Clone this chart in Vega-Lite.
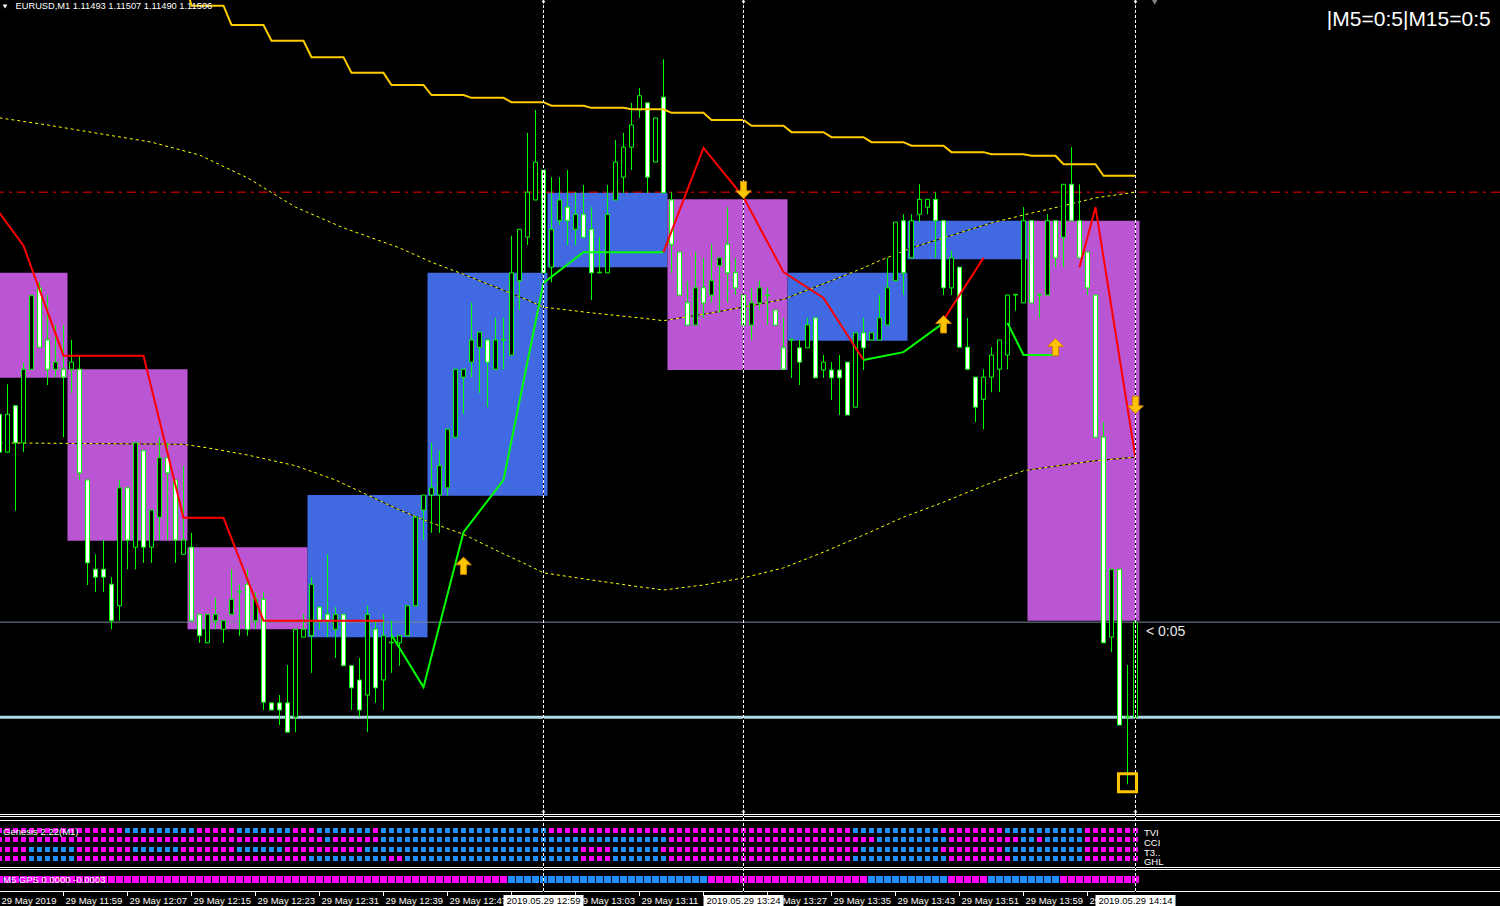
{
"$schema": "https://vega.github.io/schema/vega-lite/v6.json",
"background": "#000000",
"padding": 0,
"spacing": 0,
"bounds": "flush",
"config": {"view": {"stroke": null}, "text": {"font": "Liberation Sans"}, "scale": {"continuousPadding": 0}},
"datasets": {
"bars": [
{"i":0,"o":1.115351,"h":1.115357,"l":1.115294,"c":1.115298},
{"i":1,"o":1.115298,"h":1.115393,"l":1.115298,"c":1.115351},
{"i":2,"o":1.115363,"h":1.115363,"l":1.115216,"c":1.115311},
{"i":3,"o":1.115311,"h":1.115423,"l":1.115298,"c":1.115414},
{"i":4,"o":1.115414,"h":1.115517,"l":1.115414,"c":1.115517},
{"i":5,"o":1.115528,"h":1.115536,"l":1.115445,"c":1.115445},
{"i":6,"o":1.115455,"h":1.115518,"l":1.115392,"c":1.115414},
{"i":7,"o":1.115414,"h":1.115476,"l":1.115403,"c":1.115424},
{"i":8,"o":1.115414,"h":1.115476,"l":1.115319,"c":1.115403},
{"i":9,"o":1.115414,"h":1.115455,"l":1.115381,"c":1.115424},
{"i":10,"o":1.115414,"h":1.115434,"l":1.115259,"c":1.115269},
{"i":11,"o":1.115259,"h":1.115259,"l":1.115112,"c":1.115143},
{"i":12,"o":1.115134,"h":1.115155,"l":1.115102,"c":1.115123},
{"i":13,"o":1.115134,"h":1.115175,"l":1.115102,"c":1.115123},
{"i":14,"o":1.115113,"h":1.115123,"l":1.11505,"c":1.115062},
{"i":15,"o":1.115083,"h":1.115259,"l":1.115062,"c":1.115248},
{"i":16,"o":1.115248,"h":1.115248,"l":1.115134,"c":1.115175},
{"i":17,"o":1.115165,"h":1.115311,"l":1.115134,"c":1.115311},
{"i":18,"o":1.1153,"h":1.1153,"l":1.115143,"c":1.115165},
{"i":19,"o":1.115165,"h":1.115217,"l":1.115143,"c":1.115217},
{"i":20,"o":1.115207,"h":1.115319,"l":1.115175,"c":1.11529},
{"i":21,"o":1.11529,"h":1.115311,"l":1.115175,"c":1.115269},
{"i":22,"o":1.115259,"h":1.115259,"l":1.115143,"c":1.115175},
{"i":23,"o":1.115155,"h":1.115279,"l":1.115155,"c":1.115175},
{"i":24,"o":1.115165,"h":1.115185,"l":1.115062,"c":1.115062},
{"i":25,"o":1.115071,"h":1.115071,"l":1.115031,"c":1.115041},
{"i":26,"o":1.115031,"h":1.115071,"l":1.115031,"c":1.115071},
{"i":27,"o":1.115062,"h":1.115094,"l":1.11505,"c":1.115071},
{"i":28,"o":1.11505,"h":1.115062,"l":1.115031,"c":1.115062},
{"i":29,"o":1.115071,"h":1.115134,"l":1.115071,"c":1.115092},
{"i":30,"o":1.115102,"h":1.115113,"l":1.115041,"c":1.115103},
{"i":31,"o":1.115113,"h":1.115134,"l":1.115041,"c":1.11505},
{"i":32,"o":1.115062,"h":1.115102,"l":1.11505,"c":1.115092},
{"i":33,"o":1.115092,"h":1.115102,"l":1.114937,"c":1.114948},
{"i":34,"o":1.114947,"h":1.114947,"l":1.114937,"c":1.114937},
{"i":35,"o":1.114947,"h":1.114958,"l":1.114916,"c":1.114937},
{"i":36,"o":1.114947,"h":1.115,"l":1.114906,"c":1.114906},
{"i":37,"o":1.114927,"h":1.11505,"l":1.114906,"c":1.11505},
{"i":38,"o":1.115039,"h":1.115071,"l":1.115039,"c":1.11505},
{"i":39,"o":1.115041,"h":1.115123,"l":1.114989,"c":1.115113},
{"i":40,"o":1.115081,"h":1.115081,"l":1.11505,"c":1.115062},
{"i":41,"o":1.115071,"h":1.115155,"l":1.115039,"c":1.115062},
{"i":42,"o":1.11505,"h":1.115081,"l":1.11501,"c":1.115071},
{"i":43,"o":1.115071,"h":1.115071,"l":1.114999,"c":1.114999},
{"i":44,"o":1.114999,"h":1.114999,"l":1.114937,"c":1.114968},
{"i":45,"o":1.114979,"h":1.11501,"l":1.114927,"c":1.114937},
{"i":46,"o":1.114958,"h":1.115083,"l":1.114906,"c":1.115071},
{"i":47,"o":1.11505,"h":1.115062,"l":1.114947,"c":1.114968},
{"i":48,"o":1.114979,"h":1.115071,"l":1.114937,"c":1.115041},
{"i":49,"o":1.115031,"h":1.115062,"l":1.114989,"c":1.115032},
{"i":50,"o":1.115031,"h":1.115041,"l":1.114999,"c":1.115041},
{"i":51,"o":1.115041,"h":1.115083,"l":1.115041,"c":1.115083},
{"i":52,"o":1.115083,"h":1.115207,"l":1.115083,"c":1.115207},
{"i":53,"o":1.115217,"h":1.115238,"l":1.115175,"c":1.115238},
{"i":54,"o":1.115238,"h":1.115311,"l":1.115185,"c":1.115248},
{"i":55,"o":1.115238,"h":1.1153,"l":1.115185,"c":1.115279},
{"i":56,"o":1.115248,"h":1.11533,"l":1.115237,"c":1.11533},
{"i":57,"o":1.115319,"h":1.115414,"l":1.115319,"c":1.115414},
{"i":58,"o":1.115403,"h":1.115414,"l":1.115351,"c":1.115414},
{"i":59,"o":1.115424,"h":1.115507,"l":1.115403,"c":1.115455},
{"i":60,"o":1.115445,"h":1.115466,"l":1.115381,"c":1.115466},
{"i":61,"o":1.115455,"h":1.115455,"l":1.115361,"c":1.115424},
{"i":62,"o":1.115414,"h":1.115486,"l":1.115414,"c":1.115455},
{"i":63,"o":1.115455,"h":1.115486,"l":1.115414,"c":1.115456},
{"i":64,"o":1.115434,"h":1.115601,"l":1.115434,"c":1.115549},
{"i":65,"o":1.115538,"h":1.11561,"l":1.115497,"c":1.11561},
{"i":66,"o":1.115599,"h":1.115745,"l":1.115588,"c":1.115662},
{"i":67,"o":1.115651,"h":1.115777,"l":1.115651,"c":1.115704},
{"i":68,"o":1.115693,"h":1.115693,"l":1.115549,"c":1.115549},
{"i":69,"o":1.115557,"h":1.115683,"l":1.115536,"c":1.11561},
{"i":70,"o":1.115622,"h":1.115683,"l":1.115616,"c":1.115651},
{"i":71,"o":1.115641,"h":1.115693,"l":1.115588,"c":1.115622},
{"i":72,"o":1.11561,"h":1.115662,"l":1.115588,"c":1.115631},
{"i":73,"o":1.115631,"h":1.115672,"l":1.115599,"c":1.115599},
{"i":74,"o":1.11561,"h":1.115641,"l":1.115511,"c":1.115549},
{"i":75,"o":1.115549,"h":1.115599,"l":1.115549,"c":1.11555},
{"i":76,"o":1.115549,"h":1.115672,"l":1.115549,"c":1.115631},
{"i":77,"o":1.115651,"h":1.115735,"l":1.115651,"c":1.115704},
{"i":78,"o":1.115683,"h":1.115745,"l":1.115661,"c":1.115725},
{"i":79,"o":1.115725,"h":1.115787,"l":1.115693,"c":1.115756},
{"i":80,"o":1.115777,"h":1.115808,"l":1.115766,"c":1.115797},
{"i":81,"o":1.115787,"h":1.115787,"l":1.115661,"c":1.115683},
{"i":82,"o":1.115704,"h":1.115766,"l":1.115704,"c":1.115766},
{"i":83,"o":1.115795,"h":1.115848,"l":1.115661,"c":1.115661},
{"i":84,"o":1.115651,"h":1.115662,"l":1.115549,"c":1.115589},
{"i":85,"o":1.115578,"h":1.115578,"l":1.115518,"c":1.115518},
{"i":86,"o":1.115507,"h":1.115538,"l":1.115476,"c":1.115476},
{"i":87,"o":1.115476,"h":1.115578,"l":1.115476,"c":1.115528},
{"i":88,"o":1.115528,"h":1.11557,"l":1.115486,"c":1.115507},
{"i":89,"o":1.115518,"h":1.115589,"l":1.115507,"c":1.115538},
{"i":90,"o":1.115559,"h":1.11557,"l":1.115493,"c":1.11557},
{"i":91,"o":1.115589,"h":1.115641,"l":1.115507,"c":1.115549},
{"i":92,"o":1.115549,"h":1.11557,"l":1.115518,"c":1.115528},
{"i":93,"o":1.115518,"h":1.115528,"l":1.115476,"c":1.115476},
{"i":94,"o":1.115476,"h":1.115528,"l":1.115455,"c":1.115507},
{"i":95,"o":1.115507,"h":1.115538,"l":1.115497,"c":1.115528},
{"i":96,"o":1.115517,"h":1.115528,"l":1.115476,"c":1.115518},
{"i":97,"o":1.115497,"h":1.115497,"l":1.115476,"c":1.115476},
{"i":98,"o":1.115444,"h":1.115486,"l":1.115414,"c":1.115414},
{"i":99,"o":1.115455,"h":1.115455,"l":1.115402,"c":1.115456},
{"i":100,"o":1.115444,"h":1.115455,"l":1.115392,"c":1.115424},
{"i":101,"o":1.115444,"h":1.115486,"l":1.115444,"c":1.115476},
{"i":102,"o":1.115486,"h":1.115486,"l":1.115402,"c":1.115402},
{"i":103,"o":1.115413,"h":1.115434,"l":1.115402,"c":1.115424},
{"i":104,"o":1.115413,"h":1.115424,"l":1.115371,"c":1.115402},
{"i":105,"o":1.115413,"h":1.115434,"l":1.11535,"c":1.115402},
{"i":106,"o":1.115424,"h":1.115424,"l":1.11535,"c":1.11535},
{"i":107,"o":1.115361,"h":1.115465,"l":1.115361,"c":1.115465},
{"i":108,"o":1.115465,"h":1.115486,"l":1.115413,"c":1.115444},
{"i":109,"o":1.115455,"h":1.115465,"l":1.115455,"c":1.115465},
{"i":110,"o":1.115455,"h":1.115518,"l":1.115455,"c":1.115486},
{"i":111,"o":1.115476,"h":1.11557,"l":1.115476,"c":1.115528},
{"i":112,"o":1.115538,"h":1.11562,"l":1.115538,"c":1.11562},
{"i":113,"o":1.115622,"h":1.115631,"l":1.115518,"c":1.115549},
{"i":114,"o":1.11557,"h":1.115631,"l":1.11557,"c":1.115622},
{"i":115,"o":1.115631,"h":1.115673,"l":1.11562,"c":1.115652},
{"i":116,"o":1.115641,"h":1.115652,"l":1.115631,"c":1.115652},
{"i":117,"o":1.115652,"h":1.115662,"l":1.11557,"c":1.115622},
{"i":118,"o":1.115622,"h":1.115622,"l":1.115518,"c":1.115528},
{"i":119,"o":1.115528,"h":1.11558,"l":1.115518,"c":1.11557},
{"i":120,"o":1.115557,"h":1.115557,"l":1.115445,"c":1.115445},
{"i":121,"o":1.115445,"h":1.115486,"l":1.115414,"c":1.115414},
{"i":122,"o":1.115403,"h":1.115403,"l":1.11534,"c":1.115361},
{"i":123,"o":1.115372,"h":1.115414,"l":1.11533,"c":1.115403},
{"i":124,"o":1.115403,"h":1.115445,"l":1.115382,"c":1.115434},
{"i":125,"o":1.115414,"h":1.115455,"l":1.115382,"c":1.115455},
{"i":126,"o":1.115434,"h":1.115518,"l":1.115414,"c":1.115518},
{"i":127,"o":1.115518,"h":1.115518,"l":1.115496,"c":1.115519},
{"i":128,"o":1.115507,"h":1.115641,"l":1.115507,"c":1.115622},
{"i":129,"o":1.115622,"h":1.115622,"l":1.115507,"c":1.115507},
{"i":130,"o":1.115518,"h":1.115518,"l":1.115486,"c":1.115519},
{"i":131,"o":1.115518,"h":1.115631,"l":1.115518,"c":1.115622},
{"i":132,"o":1.115622,"h":1.115622,"l":1.115557,"c":1.11557},
{"i":133,"o":1.115599,"h":1.115673,"l":1.115557,"c":1.115673},
{"i":134,"o":1.115673,"h":1.115725,"l":1.115622,"c":1.115622},
{"i":135,"o":1.115622,"h":1.115673,"l":1.11557,"c":1.11557},
{"i":136,"o":1.115578,"h":1.115578,"l":1.115518,"c":1.115528},
{"i":137,"o":1.115518,"h":1.115518,"l":1.115319,"c":1.115319},
{"i":138,"o":1.115319,"h":1.11534,"l":1.115031,"c":1.115031},
{"i":139,"o":1.115039,"h":1.115134,"l":1.115018,"c":1.115134},
{"i":140,"o":1.115134,"h":1.115134,"l":1.114916,"c":1.114916},
{"i":141,"o":1.114927,"h":1.115,"l":1.114833,"c":1.114928},
{"i":142,"o":1.114927,"h":1.11507,"l":1.114895,"c":1.11506}
],
"ind": [
{"i":0,"tvi":-1,"cci":-1,"t3":-1,"ghl":-1,"gps":-1},
{"i":1,"tvi":-1,"cci":-1,"t3":-1,"ghl":-1,"gps":-1},
{"i":2,"tvi":-1,"cci":-1,"t3":-1,"ghl":-1,"gps":-1},
{"i":3,"tvi":-1,"cci":-1,"t3":-1,"ghl":-1,"gps":-1},
{"i":4,"tvi":-1,"cci":-1,"t3":1,"ghl":1,"gps":-1},
{"i":5,"tvi":-1,"cci":-1,"t3":1,"ghl":1,"gps":-1},
{"i":6,"tvi":-1,"cci":-1,"t3":1,"ghl":1,"gps":-1},
{"i":7,"tvi":-1,"cci":-1,"t3":1,"ghl":1,"gps":-1},
{"i":8,"tvi":-1,"cci":-1,"t3":1,"ghl":1,"gps":-1},
{"i":9,"tvi":-1,"cci":-1,"t3":1,"ghl":1,"gps":-1},
{"i":10,"tvi":-1,"cci":-1,"t3":-1,"ghl":-1,"gps":-1},
{"i":11,"tvi":-1,"cci":-1,"t3":-1,"ghl":-1,"gps":-1},
{"i":12,"tvi":-1,"cci":-1,"t3":-1,"ghl":-1,"gps":-1},
{"i":13,"tvi":-1,"cci":-1,"t3":-1,"ghl":-1,"gps":-1},
{"i":14,"tvi":-1,"cci":-1,"t3":-1,"ghl":-1,"gps":-1},
{"i":15,"tvi":-1,"cci":-1,"t3":-1,"ghl":-1,"gps":-1},
{"i":16,"tvi":1,"cci":-1,"t3":-1,"ghl":-1,"gps":-1},
{"i":17,"tvi":1,"cci":-1,"t3":1,"ghl":-1,"gps":-1},
{"i":18,"tvi":1,"cci":-1,"t3":1,"ghl":-1,"gps":-1},
{"i":19,"tvi":1,"cci":-1,"t3":1,"ghl":-1,"gps":-1},
{"i":20,"tvi":1,"cci":-1,"t3":1,"ghl":-1,"gps":-1},
{"i":21,"tvi":1,"cci":-1,"t3":1,"ghl":-1,"gps":-1},
{"i":22,"tvi":1,"cci":-1,"t3":1,"ghl":-1,"gps":-1},
{"i":23,"tvi":1,"cci":-1,"t3":-1,"ghl":-1,"gps":-1},
{"i":24,"tvi":1,"cci":-1,"t3":-1,"ghl":-1,"gps":-1},
{"i":25,"tvi":-1,"cci":-1,"t3":-1,"ghl":-1,"gps":-1},
{"i":26,"tvi":-1,"cci":-1,"t3":-1,"ghl":-1,"gps":-1},
{"i":27,"tvi":-1,"cci":-1,"t3":-1,"ghl":-1,"gps":-1},
{"i":28,"tvi":-1,"cci":-1,"t3":-1,"ghl":-1,"gps":-1},
{"i":29,"tvi":-1,"cci":-1,"t3":-1,"ghl":-1,"gps":-1},
{"i":30,"tvi":1,"cci":-1,"t3":1,"ghl":-1,"gps":-1},
{"i":31,"tvi":1,"cci":-1,"t3":1,"ghl":-1,"gps":-1},
{"i":32,"tvi":1,"cci":-1,"t3":1,"ghl":-1,"gps":-1},
{"i":33,"tvi":1,"cci":-1,"t3":1,"ghl":-1,"gps":-1},
{"i":34,"tvi":1,"cci":-1,"t3":1,"ghl":-1,"gps":-1},
{"i":35,"tvi":1,"cci":-1,"t3":1,"ghl":-1,"gps":-1},
{"i":36,"tvi":1,"cci":-1,"t3":-1,"ghl":-1,"gps":-1},
{"i":37,"tvi":-1,"cci":-1,"t3":-1,"ghl":-1,"gps":-1},
{"i":38,"tvi":-1,"cci":-1,"t3":-1,"ghl":-1,"gps":-1},
{"i":39,"tvi":-1,"cci":-1,"t3":-1,"ghl":1,"gps":-1},
{"i":40,"tvi":1,"cci":-1,"t3":-1,"ghl":1,"gps":-1},
{"i":41,"tvi":1,"cci":1,"t3":-1,"ghl":1,"gps":-1},
{"i":42,"tvi":1,"cci":-1,"t3":-1,"ghl":1,"gps":-1},
{"i":43,"tvi":1,"cci":-1,"t3":-1,"ghl":1,"gps":-1},
{"i":44,"tvi":1,"cci":-1,"t3":-1,"ghl":1,"gps":-1},
{"i":45,"tvi":1,"cci":-1,"t3":-1,"ghl":1,"gps":-1},
{"i":46,"tvi":1,"cci":-1,"t3":1,"ghl":1,"gps":-1},
{"i":47,"tvi":-1,"cci":-1,"t3":1,"ghl":1,"gps":-1},
{"i":48,"tvi":1,"cci":1,"t3":1,"ghl":1,"gps":-1},
{"i":49,"tvi":1,"cci":1,"t3":1,"ghl":-1,"gps":-1},
{"i":50,"tvi":1,"cci":1,"t3":1,"ghl":-1,"gps":-1},
{"i":51,"tvi":1,"cci":1,"t3":1,"ghl":1,"gps":-1},
{"i":52,"tvi":1,"cci":1,"t3":1,"ghl":1,"gps":-1},
{"i":53,"tvi":1,"cci":1,"t3":1,"ghl":1,"gps":-1},
{"i":54,"tvi":1,"cci":1,"t3":1,"ghl":1,"gps":-1},
{"i":55,"tvi":1,"cci":1,"t3":1,"ghl":1,"gps":-1},
{"i":56,"tvi":1,"cci":1,"t3":1,"ghl":1,"gps":-1},
{"i":57,"tvi":1,"cci":1,"t3":1,"ghl":1,"gps":-1},
{"i":58,"tvi":1,"cci":1,"t3":1,"ghl":1,"gps":-1},
{"i":59,"tvi":1,"cci":1,"t3":1,"ghl":1,"gps":-1},
{"i":60,"tvi":1,"cci":1,"t3":1,"ghl":1,"gps":-1},
{"i":61,"tvi":1,"cci":1,"t3":1,"ghl":1,"gps":-1},
{"i":62,"tvi":1,"cci":1,"t3":1,"ghl":1,"gps":-1},
{"i":63,"tvi":1,"cci":1,"t3":1,"ghl":1,"gps":-1},
{"i":64,"tvi":1,"cci":1,"t3":1,"ghl":1,"gps":1},
{"i":65,"tvi":1,"cci":1,"t3":1,"ghl":1,"gps":1},
{"i":66,"tvi":1,"cci":1,"t3":1,"ghl":1,"gps":1},
{"i":67,"tvi":1,"cci":1,"t3":1,"ghl":1,"gps":1},
{"i":68,"tvi":1,"cci":1,"t3":1,"ghl":1,"gps":1},
{"i":69,"tvi":-1,"cci":1,"t3":1,"ghl":1,"gps":1},
{"i":70,"tvi":-1,"cci":1,"t3":1,"ghl":1,"gps":1},
{"i":71,"tvi":-1,"cci":1,"t3":1,"ghl":1,"gps":1},
{"i":72,"tvi":-1,"cci":1,"t3":1,"ghl":1,"gps":1},
{"i":73,"tvi":-1,"cci":1,"t3":-1,"ghl":-1,"gps":1},
{"i":74,"tvi":-1,"cci":1,"t3":-1,"ghl":-1,"gps":1},
{"i":75,"tvi":-1,"cci":1,"t3":-1,"ghl":-1,"gps":1},
{"i":76,"tvi":-1,"cci":1,"t3":-1,"ghl":-1,"gps":1},
{"i":77,"tvi":-1,"cci":1,"t3":1,"ghl":1,"gps":1},
{"i":78,"tvi":-1,"cci":1,"t3":1,"ghl":1,"gps":1},
{"i":79,"tvi":-1,"cci":1,"t3":1,"ghl":1,"gps":1},
{"i":80,"tvi":-1,"cci":1,"t3":1,"ghl":1,"gps":1},
{"i":81,"tvi":-1,"cci":1,"t3":1,"ghl":1,"gps":1},
{"i":82,"tvi":-1,"cci":1,"t3":1,"ghl":1,"gps":1},
{"i":83,"tvi":-1,"cci":1,"t3":-1,"ghl":1,"gps":1},
{"i":84,"tvi":-1,"cci":-1,"t3":-1,"ghl":-1,"gps":1},
{"i":85,"tvi":-1,"cci":-1,"t3":-1,"ghl":-1,"gps":1},
{"i":86,"tvi":-1,"cci":-1,"t3":-1,"ghl":-1,"gps":1},
{"i":87,"tvi":-1,"cci":-1,"t3":-1,"ghl":-1,"gps":1},
{"i":88,"tvi":-1,"cci":-1,"t3":-1,"ghl":-1,"gps":1},
{"i":89,"tvi":-1,"cci":-1,"t3":-1,"ghl":-1,"gps":-1},
{"i":90,"tvi":-1,"cci":-1,"t3":-1,"ghl":-1,"gps":-1},
{"i":91,"tvi":-1,"cci":-1,"t3":-1,"ghl":-1,"gps":-1},
{"i":92,"tvi":-1,"cci":-1,"t3":-1,"ghl":-1,"gps":-1},
{"i":93,"tvi":-1,"cci":-1,"t3":-1,"ghl":-1,"gps":-1},
{"i":94,"tvi":-1,"cci":-1,"t3":-1,"ghl":-1,"gps":-1},
{"i":95,"tvi":-1,"cci":-1,"t3":-1,"ghl":-1,"gps":-1},
{"i":96,"tvi":-1,"cci":-1,"t3":-1,"ghl":-1,"gps":-1},
{"i":97,"tvi":-1,"cci":-1,"t3":-1,"ghl":-1,"gps":-1},
{"i":98,"tvi":-1,"cci":-1,"t3":-1,"ghl":-1,"gps":-1},
{"i":99,"tvi":-1,"cci":-1,"t3":-1,"ghl":-1,"gps":-1},
{"i":100,"tvi":-1,"cci":-1,"t3":-1,"ghl":-1,"gps":-1},
{"i":101,"tvi":-1,"cci":-1,"t3":-1,"ghl":-1,"gps":-1},
{"i":102,"tvi":-1,"cci":-1,"t3":-1,"ghl":-1,"gps":-1},
{"i":103,"tvi":-1,"cci":-1,"t3":-1,"ghl":-1,"gps":-1},
{"i":104,"tvi":-1,"cci":-1,"t3":-1,"ghl":-1,"gps":-1},
{"i":105,"tvi":-1,"cci":-1,"t3":-1,"ghl":-1,"gps":-1},
{"i":106,"tvi":-1,"cci":-1,"t3":-1,"ghl":-1,"gps":-1},
{"i":107,"tvi":1,"cci":-1,"t3":-1,"ghl":1,"gps":-1},
{"i":108,"tvi":1,"cci":-1,"t3":1,"ghl":1,"gps":-1},
{"i":109,"tvi":1,"cci":-1,"t3":1,"ghl":1,"gps":1},
{"i":110,"tvi":1,"cci":1,"t3":1,"ghl":1,"gps":1},
{"i":111,"tvi":1,"cci":1,"t3":1,"ghl":1,"gps":1},
{"i":112,"tvi":1,"cci":1,"t3":1,"ghl":1,"gps":1},
{"i":113,"tvi":1,"cci":1,"t3":1,"ghl":1,"gps":1},
{"i":114,"tvi":1,"cci":1,"t3":1,"ghl":1,"gps":1},
{"i":115,"tvi":1,"cci":1,"t3":1,"ghl":1,"gps":1},
{"i":116,"tvi":1,"cci":1,"t3":1,"ghl":1,"gps":1},
{"i":117,"tvi":1,"cci":1,"t3":1,"ghl":1,"gps":1},
{"i":118,"tvi":-1,"cci":1,"t3":-1,"ghl":1,"gps":1},
{"i":119,"tvi":-1,"cci":-1,"t3":-1,"ghl":-1,"gps":-1},
{"i":120,"tvi":-1,"cci":-1,"t3":-1,"ghl":-1,"gps":-1},
{"i":121,"tvi":-1,"cci":-1,"t3":-1,"ghl":-1,"gps":-1},
{"i":122,"tvi":-1,"cci":-1,"t3":-1,"ghl":-1,"gps":-1},
{"i":123,"tvi":-1,"cci":-1,"t3":-1,"ghl":-1,"gps":-1},
{"i":124,"tvi":-1,"cci":-1,"t3":-1,"ghl":-1,"gps":1},
{"i":125,"tvi":-1,"cci":-1,"t3":-1,"ghl":-1,"gps":1},
{"i":126,"tvi":1,"cci":-1,"t3":1,"ghl":-1,"gps":1},
{"i":127,"tvi":1,"cci":-1,"t3":1,"ghl":1,"gps":1},
{"i":128,"tvi":1,"cci":1,"t3":1,"ghl":1,"gps":1},
{"i":129,"tvi":1,"cci":1,"t3":1,"ghl":1,"gps":1},
{"i":130,"tvi":1,"cci":-1,"t3":1,"ghl":1,"gps":1},
{"i":131,"tvi":1,"cci":1,"t3":1,"ghl":1,"gps":1},
{"i":132,"tvi":1,"cci":1,"t3":1,"ghl":1,"gps":1},
{"i":133,"tvi":1,"cci":1,"t3":1,"ghl":1,"gps":-1},
{"i":134,"tvi":1,"cci":1,"t3":1,"ghl":1,"gps":-1},
{"i":135,"tvi":1,"cci":1,"t3":1,"ghl":1,"gps":-1},
{"i":136,"tvi":-1,"cci":-1,"t3":-1,"ghl":-1,"gps":-1},
{"i":137,"tvi":-1,"cci":-1,"t3":-1,"ghl":-1,"gps":-1},
{"i":138,"tvi":-1,"cci":-1,"t3":-1,"ghl":-1,"gps":-1},
{"i":139,"tvi":-1,"cci":-1,"t3":-1,"ghl":-1,"gps":-1},
{"i":140,"tvi":-1,"cci":-1,"t3":-1,"ghl":-1,"gps":-1},
{"i":141,"tvi":-1,"cci":-1,"t3":-1,"ghl":-1,"gps":-1},
{"i":142,"tvi":-1,"cci":-1,"t3":-1,"ghl":-1,"gps":-1}
],
"boxes": [
{"i":0,"i2":8.5,"p":1.115549,"p2":1.115402,"k":"dn"},
{"i":8.5,"i2":23.5,"p":1.115414,"p2":1.115174,"k":"dn"},
{"i":23.5,"i2":38.5,"p":1.115165,"p2":1.11505,"k":"dn"},
{"i":38.5,"i2":53.5,"p":1.115238,"p2":1.115039,"k":"up"},
{"i":53.5,"i2":68.5,"p":1.115549,"p2":1.115237,"k":"up"},
{"i":68.5,"i2":83.5,"p":1.115661,"p2":1.115557,"k":"up"},
{"i":83.5,"i2":98.5,"p":1.115652,"p2":1.115413,"k":"dn"},
{"i":98.5,"i2":113.5,"p":1.115549,"p2":1.115454,"k":"up"},
{"i":113.5,"i2":128.5,"p":1.115622,"p2":1.115568,"k":"up"},
{"i":128.5,"i2":142.5,"p":1.115622,"p2":1.115062,"k":"dn"}
],
"gold": [
{"i":23,"p":1.115966},{"i":24,"p":1.115923},{"i":28,"p":1.115923},{"i":29,"p":1.115896},{"i":33,"p":1.115896},
{"i":34,"p":1.115874},{"i":38,"p":1.115874},{"i":39,"p":1.115851},{"i":43,"p":1.115851},{"i":44,"p":1.115829},
{"i":48,"p":1.115829},{"i":49,"p":1.115812},{"i":53,"p":1.115812},{"i":54,"p":1.115798},{"i":58,"p":1.115798},
{"i":59,"p":1.115794},{"i":63,"p":1.115794},{"i":64,"p":1.115788},{"i":68,"p":1.115788},{"i":69,"p":1.115783},
{"i":73,"p":1.115783},{"i":74,"p":1.11578},{"i":78,"p":1.11578},{"i":79,"p":1.115778},{"i":83,"p":1.115778},
{"i":84,"p":1.115773},{"i":88,"p":1.115773},{"i":89,"p":1.115763},{"i":93,"p":1.115763},{"i":94,"p":1.115755},
{"i":98,"p":1.115755},{"i":99,"p":1.115746},{"i":103,"p":1.115746},{"i":104,"p":1.115739},{"i":108,"p":1.115739},
{"i":109,"p":1.115732},{"i":113,"p":1.115732},{"i":114,"p":1.115727},{"i":118,"p":1.115727},{"i":119,"p":1.115718},
{"i":123,"p":1.115718},{"i":124,"p":1.115715},{"i":128,"p":1.115715},{"i":129,"p":1.115713},{"i":132,"p":1.115713},
{"i":133,"p":1.115701},{"i":137,"p":1.115701},{"i":138,"p":1.115685},{"i":142,"p":1.115685}
],
"bands": [
{"b":"up","i":0,"p":1.115766},{"b":"up","i":6,"p":1.115756},{"b":"up","i":13,"p":1.115743},{"b":"up","i":19,"p":1.115732},
{"b":"up","i":25,"p":1.115714},{"b":"up","i":31,"p":1.115682},{"b":"up","i":37,"p":1.115641},{"b":"up","i":43,"p":1.115612},
{"b":"up","i":50,"p":1.115584},{"b":"up","i":54,"p":1.115564},{"b":"up","i":58,"p":1.115547},{"b":"up","i":62,"p":1.115529},
{"b":"up","i":66,"p":1.115511},{"b":"up","i":68,"p":1.115501},{"b":"up","i":74,"p":1.115493},{"b":"up","i":80,"p":1.115486},
{"b":"up","i":83,"p":1.115482},{"b":"up","i":89,"p":1.115493},{"b":"up","i":93,"p":1.115501},{"b":"up","i":98,"p":1.115512},
{"b":"up","i":104,"p":1.115538},{"b":"up","i":108,"p":1.115556},{"b":"up","i":110,"p":1.115566},{"b":"up","i":114,"p":1.115584},
{"b":"up","i":118,"p":1.115598},{"b":"up","i":124,"p":1.115619},{"b":"up","i":128,"p":1.11563},{"b":"up","i":133,"p":1.115643},
{"b":"up","i":137,"p":1.115654},{"b":"up","i":142,"p":1.115662},
{"b":"lo","i":0,"p":1.115311},{"b":"lo","i":23,"p":1.115309},{"b":"lo","i":26,"p":1.115304},{"b":"lo","i":31,"p":1.115294},
{"b":"lo","i":37,"p":1.115279},{"b":"lo","i":42,"p":1.115259},{"b":"lo","i":46,"p":1.115238},{"b":"lo","i":50,"p":1.115217},
{"b":"lo","i":54,"p":1.115199},{"b":"lo","i":58,"p":1.115183},{"b":"lo","i":62,"p":1.115161},{"b":"lo","i":66,"p":1.11514},
{"b":"lo","i":68,"p":1.115129},{"b":"lo","i":74,"p":1.115119},{"b":"lo","i":79,"p":1.115111},{"b":"lo","i":83,"p":1.115105},
{"b":"lo","i":88,"p":1.115112},{"b":"lo","i":93,"p":1.115122},{"b":"lo","i":98,"p":1.115136},{"b":"lo","i":103,"p":1.115158},
{"b":"lo","i":108,"p":1.115182},{"b":"lo","i":113,"p":1.115207},{"b":"lo","i":118,"p":1.115228},{"b":"lo","i":123,"p":1.115251},
{"b":"lo","i":128,"p":1.115272},{"b":"lo","i":133,"p":1.11528},{"b":"lo","i":137,"p":1.115286},{"b":"lo","i":142,"p":1.115291}
],
"zig": [
{"s":"r1","col":"r","i":0,"p":1.115633},{"s":"r1","col":"r","i":3,"p":1.115587},{"s":"r1","col":"r","i":8,"p":1.115433},
{"s":"r1","col":"r","i":18,"p":1.115433},{"s":"r1","col":"r","i":23,"p":1.115206},{"s":"r1","col":"r","i":28,"p":1.115206},
{"s":"r1","col":"r","i":33,"p":1.115062},{"s":"r1","col":"r","i":48,"p":1.115062},
{"s":"g1","col":"g","i":49,"p":1.115042},{"s":"g1","col":"g","i":53,"p":1.114969},{"s":"g1","col":"g","i":58,"p":1.115186},
{"s":"g1","col":"g","i":63,"p":1.115259},{"s":"g1","col":"g","i":68,"p":1.115535},{"s":"g1","col":"g","i":73,"p":1.115578},
{"s":"g1","col":"g","i":83,"p":1.115578},
{"s":"r2","col":"r","i":83,"p":1.115578},{"s":"r2","col":"r","i":88,"p":1.115724},{"s":"r2","col":"r","i":93,"p":1.115655},
{"s":"r2","col":"r","i":98,"p":1.11555},{"s":"r2","col":"r","i":103,"p":1.115514},{"s":"r2","col":"r","i":108,"p":1.115427},
{"s":"g2","col":"g","i":108,"p":1.115427},{"s":"g2","col":"g","i":113,"p":1.115438},{"s":"g2","col":"g","i":118,"p":1.115479},
{"s":"r3","col":"r","i":118,"p":1.115483},{"s":"r3","col":"r","i":123,"p":1.11557},
{"s":"g3","col":"g","i":126,"p":1.115479},{"s":"g3","col":"g","i":128,"p":1.115434},{"s":"g3","col":"g","i":132,"p":1.115434},
{"s":"r4","col":"r","i":135,"p":1.115557},{"s":"r4","col":"r","i":137,"p":1.115641},{"s":"r4","col":"r","i":142,"p":1.11529}
],
"arrows": [
{"i":58,"p":1.115139,"d":"up"},{"i":118,"p":1.115477,"d":"up"},{"i":132,"p":1.115445,"d":"up"},
{"i":93,"p":1.115665,"d":"down"},{"i":142,"p":1.115364,"d":"down"}
],
"lowmark": [{"i":141,"p":1.114835}],
"vl": [{"i":68},{"i":93},{"i":142}],
"times": [
{"i":0,"t":"29 May 2019"},{"i":8,"t":"29 May 11:59"},{"i":16,"t":"29 May 12:07"},{"i":24,"t":"29 May 12:15"},
{"i":32,"t":"29 May 12:23"},{"i":40,"t":"29 May 12:31"},{"i":48,"t":"29 May 12:39"},{"i":56,"t":"29 May 12:47"},
{"i":64,"t":"29 May 12:55"},{"i":72,"t":"29 May 13:03"},{"i":80,"t":"29 May 13:11"},{"i":88,"t":"29 May 13:19"},
{"i":96,"t":"29 May 13:27"},{"i":104,"t":"29 May 13:35"},{"i":112,"t":"29 May 13:43"},{"i":120,"t":"29 May 13:51"},
{"i":128,"t":"29 May 13:59"},{"i":136,"t":"29 May 14:07"}
],
"hl": [{"i":68,"t":"2019.05.29 12:59"},{"i":93,"t":"2019.05.29 13:24"},{"i":142,"t":"2019.05.29 14:14"}]
},
"vconcat": [
{
"width": 1500, "height": 813,
"layer": [
{"data":{"name":"boxes"},"mark":{"type":"rect","clip":true},
 "encoding":{"x":{"field":"i","type":"quantitative","scale":{"domain":[0.0625,187.5625],"nice":false,"zero":false,"padding":0},"axis":null},"x2":{"field":"i2"},
 "y":{"field":"p","type":"quantitative","scale":{"domain":[1.1147928,1.115931],"nice":false,"zero":false,"padding":0},"axis":null},"y2":{"field":"p2"},
 "fill":{"field":"k","type":"nominal","scale":{"domain":["dn","up"],"range":["#BA55D3","#4169E1"]},"legend":null}}},
{"data":{"values":[{}]},"mark":{"type":"rule","color":"#FF0000","strokeWidth":1,"strokeDash":[9,5,3,5],"clip":true},
 "encoding":{"y":{"datum":1.115662,"type":"quantitative","scale":{"domain":[1.1147928,1.115931],"nice":false,"zero":false,"padding":0},"axis":null}}},
{"data":{"values":[{}]},"mark":{"type":"rule","color":"#778899","strokeWidth":1,"clip":true},
 "encoding":{"y":{"datum":1.11506,"type":"quantitative","scale":{"domain":[1.1147928,1.115931],"nice":false,"zero":false,"padding":0},"axis":null}}},
{"data":{"values":[{}]},"mark":{"type":"rule","color":"#ADD8E6","strokeWidth":3,"clip":true},
 "encoding":{"y":{"datum":1.114927,"type":"quantitative","scale":{"domain":[1.1147928,1.115931],"nice":false,"zero":false,"padding":0},"axis":null}}},
{"data":{"name":"bands"},"mark":{"type":"line","color":"#000000","strokeWidth":1,"clip":true},
 "encoding":{"x":{"field":"i","type":"quantitative","scale":{"domain":[0.0625,187.5625],"nice":false,"zero":false,"padding":0},"axis":null},
 "y":{"field":"p","type":"quantitative","scale":{"domain":[1.1147928,1.115931],"nice":false,"zero":false,"padding":0},"axis":null},"detail":{"field":"b","type":"nominal"}}},
{"data":{"name":"bands"},"mark":{"type":"line","color":"#FFFF00","strokeWidth":1,"strokeDash":[3,3],"clip":true},
 "encoding":{"x":{"field":"i","type":"quantitative","scale":{"domain":[0.0625,187.5625],"nice":false,"zero":false,"padding":0},"axis":null},
 "y":{"field":"p","type":"quantitative","scale":{"domain":[1.1147928,1.115931],"nice":false,"zero":false,"padding":0},"axis":null},"detail":{"field":"b","type":"nominal"}}},
{"data":{"name":"bars"},"mark":{"type":"rule","color":"#00FF00","strokeWidth":1,"clip":true},
 "encoding":{"x":{"field":"i","type":"quantitative","scale":{"domain":[0.0625,187.5625],"nice":false,"zero":false,"padding":0},"axis":null},
 "y":{"field":"l","type":"quantitative","scale":{"domain":[1.1147928,1.115931],"nice":false,"zero":false,"padding":0},"axis":null},"y2":{"field":"h"}}},
{"data":{"name":"bars"},"mark":{"type":"bar","orient":"vertical","size":4,"stroke":"#00FF00","strokeWidth":1,"clip":true},
 "encoding":{"x":{"field":"i","type":"quantitative","scale":{"domain":[0.0625,187.5625],"nice":false,"zero":false,"padding":0},"axis":null},
 "y":{"field":"o","type":"quantitative","scale":{"domain":[1.1147928,1.115931],"nice":false,"zero":false,"padding":0},"axis":null},"y2":{"field":"c"},
 "fill":{"condition":{"test":"datum.c > datum.o","value":"#000000"},"value":"#FFFFFF"}}},
{"data":{"name":"zig"},"mark":{"type":"line","strokeWidth":2,"clip":true},
 "encoding":{"x":{"field":"i","type":"quantitative","scale":{"domain":[0.0625,187.5625],"nice":false,"zero":false,"padding":0},"axis":null},
 "y":{"field":"p","type":"quantitative","scale":{"domain":[1.1147928,1.115931],"nice":false,"zero":false,"padding":0},"axis":null},
 "detail":{"field":"s","type":"nominal"},
 "stroke":{"field":"col","type":"nominal","scale":{"domain":["r","g"],"range":["#FF0000","#00FF00"]},"legend":null}}},
{"data":{"name":"gold"},"mark":{"type":"line","color":"#FFCC00","strokeWidth":2,"clip":true},
 "encoding":{"x":{"field":"i","type":"quantitative","scale":{"domain":[0.0625,187.5625],"nice":false,"zero":false,"padding":0},"axis":null},
 "y":{"field":"p","type":"quantitative","scale":{"domain":[1.1147928,1.115931],"nice":false,"zero":false,"padding":0},"axis":null}}},
{"data":{"name":"vl"},"mark":{"type":"rule","color":"#000000","strokeWidth":1,"clip":true},
 "encoding":{"x":{"field":"i","type":"quantitative","scale":{"domain":[0.0625,187.5625],"nice":false,"zero":false,"padding":0},"axis":null}}},
{"data":{"name":"vl"},"mark":{"type":"rule","color":"#FFFFFF","strokeWidth":1,"strokeDash":[3,2],"clip":true},
 "encoding":{"x":{"field":"i","type":"quantitative","scale":{"domain":[0.0625,187.5625],"nice":false,"zero":false,"padding":0},"axis":null}}},
{"data":{"name":"vl"},"mark":{"type":"point","shape":"triangle-up","filled":true,"opacity":1,"size":14,"color":"#FFFFFF","clip":true},
 "encoding":{"x":{"field":"i","type":"quantitative","scale":{"domain":[0.0625,187.5625],"nice":false,"zero":false,"padding":0},"axis":null},
 "y":{"datum":1.1147958,"type":"quantitative","scale":{"domain":[1.1147928,1.115931],"nice":false,"zero":false,"padding":0},"axis":null}}},
{"data":{"name":"vl"},"mark":{"type":"point","shape":"triangle-down","filled":true,"opacity":1,"size":14,"color":"#FFFFFF","clip":true},
 "encoding":{"x":{"field":"i","type":"quantitative","scale":{"domain":[0.0625,187.5625],"nice":false,"zero":false,"padding":0},"axis":null},
 "y":{"datum":1.1159278,"type":"quantitative","scale":{"domain":[1.1147928,1.115931],"nice":false,"zero":false,"padding":0},"axis":null}}},
{"data":{"name":"arrows"},"mark":{"type":"point","filled":true,"opacity":1,"size":300,"fill":"#FFC400","stroke":"#D08000","strokeWidth":1},
 "encoding":{"x":{"field":"i","type":"quantitative","scale":{"domain":[0.0625,187.5625],"nice":false,"zero":false,"padding":0},"axis":null},
 "y":{"field":"p","type":"quantitative","scale":{"domain":[1.1147928,1.115931],"nice":false,"zero":false,"padding":0},"axis":null},
 "shape":{"field":"d","type":"nominal","scale":{"domain":["up","down"],"range":["M0,-1L0.9,-0.1L0.35,-0.1L0.35,1L-0.35,1L-0.35,-0.1L-0.9,-0.1Z","M0,1L0.9,0.1L0.35,0.1L0.35,-1L-0.35,-1L-0.35,0.1L-0.9,0.1Z"]},"legend":null}}},
{"data":{"name":"lowmark"},"mark":{"type":"point","shape":"square","filled":false,"opacity":1,"size":324,"stroke":"#FFC400","strokeWidth":3},
 "encoding":{"x":{"field":"i","type":"quantitative","scale":{"domain":[0.0625,187.5625],"nice":false,"zero":false,"padding":0},"axis":null},
 "y":{"field":"p","type":"quantitative","scale":{"domain":[1.1147928,1.115931],"nice":false,"zero":false,"padding":0},"axis":null}}},
{"data":{"values":[{}]},"mark":{"type":"point","shape":"triangle-down","filled":true,"opacity":1,"size":40,"color":"#808080","clip":true},
 "encoding":{"x":{"datum":144.4,"type":"quantitative","scale":{"domain":[0.0625,187.5625],"nice":false,"zero":false,"padding":0},"axis":null},
 "y":{"datum":1.1159282,"type":"quantitative","scale":{"domain":[1.1147928,1.115931],"nice":false,"zero":false,"padding":0},"axis":null}}},
{"data":{"values":[{}]},"mark":{"type":"point","shape":"triangle-down","filled":true,"opacity":1,"size":22,"color":"#FFFFFF"},
 "encoding":{"x":{"datum":0.69,"type":"quantitative","scale":{"domain":[0.0625,187.5625],"nice":false,"zero":false,"padding":0},"axis":null},
 "y":{"datum":1.115922,"type":"quantitative","scale":{"domain":[1.1147928,1.115931],"nice":false,"zero":false,"padding":0},"axis":null}}},
{"data":{"values":[{}]},"mark":{"type":"text","text":"EURUSD,M1  1.11493 1.11507 1.11490 1.11506","fontSize":9.3,"color":"#FFFFFF","align":"left","baseline":"middle"},
 "encoding":{"x":{"datum":2.0,"type":"quantitative","scale":{"domain":[0.0625,187.5625],"nice":false,"zero":false,"padding":0},"axis":null},
 "y":{"datum":1.115922,"type":"quantitative","scale":{"domain":[1.1147928,1.115931],"nice":false,"zero":false,"padding":0},"axis":null}}},
{"data":{"values":[{}]},"mark":{"type":"text","text":"|M5=0:5|M15=0:5","fontSize":21,"color":"#FFFFFF","align":"right","baseline":"alphabetic"},
 "encoding":{"x":{"datum":186.4,"type":"quantitative","scale":{"domain":[0.0625,187.5625],"nice":false,"zero":false,"padding":0},"axis":null},
 "y":{"datum":1.115894,"type":"quantitative","scale":{"domain":[1.1147928,1.115931],"nice":false,"zero":false,"padding":0},"axis":null}}},
{"data":{"values":[{}]},"mark":{"type":"text","text":"< 0:05","fontSize":14,"color":"#E8E8E8","align":"left","baseline":"alphabetic"},
 "encoding":{"x":{"datum":143.3,"type":"quantitative","scale":{"domain":[0.0625,187.5625],"nice":false,"zero":false,"padding":0},"axis":null},
 "y":{"datum":1.115041,"type":"quantitative","scale":{"domain":[1.1147928,1.115931],"nice":false,"zero":false,"padding":0},"axis":null}}}
]
},
{
"width": 1500, "height": 79,
"layer": [
{"data":{"values":[{}]},"mark":{"type":"rule","color":"#FFFFFF","strokeWidth":1,"clip":true},"encoding":{"y":{"datum":1.5,"type":"quantitative","scale":{"domain":[0,79],"nice":false,"zero":false,"reverse":true,"padding":0},"axis":null}}},
{"data":{"values":[{}]},"mark":{"type":"rule","color":"#FFFFFF","strokeWidth":1,"clip":true},"encoding":{"y":{"datum":3.5,"type":"quantitative","scale":{"domain":[0,79],"nice":false,"zero":false,"reverse":true,"padding":0},"axis":null}}},
{"data":{"values":[{}]},"mark":{"type":"rule","color":"#FFFFFF","strokeWidth":1,"clip":true},"encoding":{"y":{"datum":7.5,"type":"quantitative","scale":{"domain":[0,79],"nice":false,"zero":false,"reverse":true,"padding":0},"axis":null}}},
{"data":{"values":[{}]},"mark":{"type":"rule","color":"#FFFFFF","strokeWidth":1,"clip":true},"encoding":{"y":{"datum":54.5,"type":"quantitative","scale":{"domain":[0,79],"nice":false,"zero":false,"reverse":true,"padding":0},"axis":null}}},
{"data":{"values":[{}]},"mark":{"type":"rule","color":"#FFFFFF","strokeWidth":1,"clip":true},"encoding":{"y":{"datum":56.5,"type":"quantitative","scale":{"domain":[0,79],"nice":false,"zero":false,"reverse":true,"padding":0},"axis":null}}},
{"data":{"values":[{}]},"mark":{"type":"rule","color":"#FFFFFF","strokeWidth":1,"clip":true},"encoding":{"y":{"datum":78.5,"type":"quantitative","scale":{"domain":[0,79],"nice":false,"zero":false,"reverse":true,"padding":0},"axis":null}}},
{"data":{"name":"ind"},"mark":{"type":"square","size":25,"opacity":1,"clip":true},
 "encoding":{"x":{"field":"i","type":"quantitative","scale":{"domain":[0.0625,187.5625],"nice":false,"zero":false,"padding":0},"axis":null},
 "y":{"datum":17.5,"type":"quantitative","scale":{"domain":[0,79],"nice":false,"zero":false,"reverse":true,"padding":0},"axis":null},
 "color":{"condition":{"test":"datum.tvi > 0","value":"#1E90FF"},"value":"#FF00FF"}}},
{"data":{"name":"ind"},"mark":{"type":"square","size":25,"opacity":1,"clip":true},
 "encoding":{"x":{"field":"i","type":"quantitative","scale":{"domain":[0.0625,187.5625],"nice":false,"zero":false,"padding":0},"axis":null},
 "y":{"datum":26.5,"type":"quantitative","scale":{"domain":[0,79],"nice":false,"zero":false,"reverse":true,"padding":0},"axis":null},
 "color":{"condition":{"test":"datum.cci > 0","value":"#1E90FF"},"value":"#FF00FF"}}},
{"data":{"name":"ind"},"mark":{"type":"square","size":25,"opacity":1,"clip":true},
 "encoding":{"x":{"field":"i","type":"quantitative","scale":{"domain":[0.0625,187.5625],"nice":false,"zero":false,"padding":0},"axis":null},
 "y":{"datum":36.5,"type":"quantitative","scale":{"domain":[0,79],"nice":false,"zero":false,"reverse":true,"padding":0},"axis":null},
 "color":{"condition":{"test":"datum.t3 > 0","value":"#1E90FF"},"value":"#FF00FF"}}},
{"data":{"name":"ind"},"mark":{"type":"square","size":25,"opacity":1,"clip":true},
 "encoding":{"x":{"field":"i","type":"quantitative","scale":{"domain":[0.0625,187.5625],"nice":false,"zero":false,"padding":0},"axis":null},
 "y":{"datum":45.5,"type":"quantitative","scale":{"domain":[0,79],"nice":false,"zero":false,"reverse":true,"padding":0},"axis":null},
 "color":{"condition":{"test":"datum.ghl > 0","value":"#1E90FF"},"value":"#FF00FF"}}},
{"data":{"name":"ind"},"mark":{"type":"square","size":49,"opacity":1,"clip":true},
 "encoding":{"x":{"field":"i","type":"quantitative","scale":{"domain":[0.0625,187.5625],"nice":false,"zero":false,"padding":0},"axis":null},
 "y":{"datum":66.5,"type":"quantitative","scale":{"domain":[0,79],"nice":false,"zero":false,"reverse":true,"padding":0},"axis":null},
 "color":{"condition":{"test":"datum.gps > 0","value":"#1E90FF"},"value":"#FF00FF"}}},
{"data":{"name":"vl"},"mark":{"type":"rule","color":"#000000","strokeWidth":1,"clip":true},
 "encoding":{"x":{"field":"i","type":"quantitative","scale":{"domain":[0.0625,187.5625],"nice":false,"zero":false,"padding":0},"axis":null}}},
{"data":{"name":"vl"},"mark":{"type":"rule","color":"#FFFFFF","strokeWidth":1,"strokeDash":[3,2],"clip":true},
 "encoding":{"x":{"field":"i","type":"quantitative","scale":{"domain":[0.0625,187.5625],"nice":false,"zero":false,"padding":0},"axis":null}}},
{"data":{"values":[{}]},"mark":{"type":"text","text":"Genesis 2.22(M1)","fontSize":9.5,"color":"#FFFFFF","align":"left","baseline":"middle"},
 "encoding":{"x":{"datum":0.44,"type":"quantitative","scale":{"domain":[0.0625,187.5625],"nice":false,"zero":false,"padding":0},"axis":null},
 "y":{"datum":18.5,"type":"quantitative","scale":{"domain":[0,79],"nice":false,"zero":false,"reverse":true,"padding":0},"axis":null}}},
{"data":{"values":[{}]},"mark":{"type":"text","text":"M5 GPS 0.0000 -0.0003","fontSize":9.5,"color":"#FFFFFF","align":"left","baseline":"middle"},
 "encoding":{"x":{"datum":0.44,"type":"quantitative","scale":{"domain":[0.0625,187.5625],"nice":false,"zero":false,"padding":0},"axis":null},
 "y":{"datum":66.5,"type":"quantitative","scale":{"domain":[0,79],"nice":false,"zero":false,"reverse":true,"padding":0},"axis":null}}},
{"data":{"values":[{}]},"mark":{"type":"text","text":"TVI","fontSize":9.5,"color":"#FFFFFF","align":"left","baseline":"middle"},
 "encoding":{"x":{"datum":143.06,"type":"quantitative","scale":{"domain":[0.0625,187.5625],"nice":false,"zero":false,"padding":0},"axis":null},
 "y":{"datum":20,"type":"quantitative","scale":{"domain":[0,79],"nice":false,"zero":false,"reverse":true,"padding":0},"axis":null}}},
{"data":{"values":[{}]},"mark":{"type":"text","text":"CCI","fontSize":9.5,"color":"#FFFFFF","align":"left","baseline":"middle"},
 "encoding":{"x":{"datum":143.06,"type":"quantitative","scale":{"domain":[0.0625,187.5625],"nice":false,"zero":false,"padding":0},"axis":null},
 "y":{"datum":30,"type":"quantitative","scale":{"domain":[0,79],"nice":false,"zero":false,"reverse":true,"padding":0},"axis":null}}},
{"data":{"values":[{}]},"mark":{"type":"text","text":"T3..","fontSize":9.5,"color":"#FFFFFF","align":"left","baseline":"middle"},
 "encoding":{"x":{"datum":143.06,"type":"quantitative","scale":{"domain":[0.0625,187.5625],"nice":false,"zero":false,"padding":0},"axis":null},
 "y":{"datum":39.5,"type":"quantitative","scale":{"domain":[0,79],"nice":false,"zero":false,"reverse":true,"padding":0},"axis":null}}},
{"data":{"values":[{}]},"mark":{"type":"text","text":"GHL","fontSize":9.5,"color":"#FFFFFF","align":"left","baseline":"middle"},
 "encoding":{"x":{"datum":143.06,"type":"quantitative","scale":{"domain":[0.0625,187.5625],"nice":false,"zero":false,"padding":0},"axis":null},
 "y":{"datum":48.5,"type":"quantitative","scale":{"domain":[0,79],"nice":false,"zero":false,"reverse":true,"padding":0},"axis":null}}}
]
},
{
"width": 1500, "height": 14,
"layer": [
{"data":{"name":"times"},"transform":[{"filter":"datum.i > 0"}],"mark":{"type":"tick","color":"#FFFFFF","thickness":1,"size":4,"yOffset":-5,"opacity":1},
 "encoding":{"x":{"field":"i","type":"quantitative","scale":{"domain":[0.0625,187.5625],"nice":false,"zero":false,"padding":0},"axis":null}}},
{"data":{"name":"times"},"mark":{"type":"text","color":"#FFFFFF","fontSize":9.5,"align":"left","baseline":"middle","dx":2,"dy":2},
 "encoding":{"x":{"field":"i","type":"quantitative","scale":{"domain":[0.0625,187.5625],"nice":false,"zero":false,"padding":0},"axis":null},"text":{"field":"t"}}},
{"data":{"name":"hl"},"mark":{"type":"tick","color":"#FFFFFF","thickness":80,"size":11,"yOffset":1.5,"opacity":1},
 "encoding":{"x":{"field":"i","type":"quantitative","scale":{"domain":[0.0625,187.5625],"nice":false,"zero":false,"padding":0},"axis":null}}},
{"data":{"name":"hl"},"mark":{"type":"text","color":"#000000","fontSize":9.5,"align":"center","baseline":"middle","dy":2},
 "encoding":{"x":{"field":"i","type":"quantitative","scale":{"domain":[0.0625,187.5625],"nice":false,"zero":false,"padding":0},"axis":null},"text":{"field":"t"}}}
]
}
]
}
